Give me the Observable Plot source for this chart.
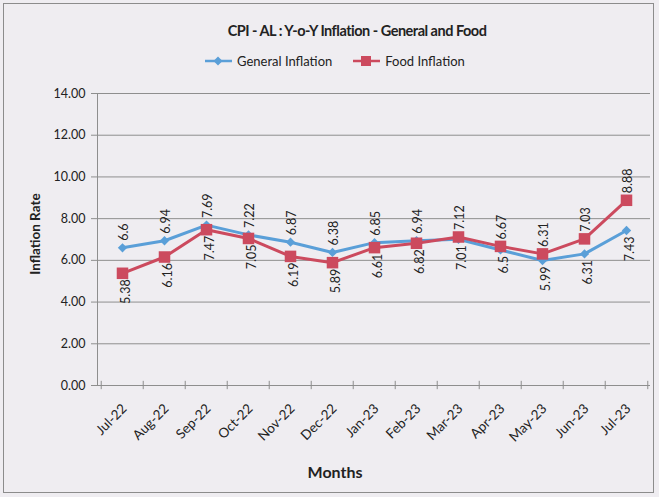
<!DOCTYPE html>
<html><head><meta charset="utf-8">
<script src="https://cdn.jsdelivr.net/npm/d3@7"></script>
<script src="https://cdn.jsdelivr.net/npm/@observablehq/plot@0.6"></script>
<style>
html,body{margin:0;padding:0;background:#efedf1;}
#wrap{position:relative;width:659px;height:497px;font-family:Lato,"Open Sans",sans-serif;color:#222;overflow:hidden;background:#efedf1;}
#border{position:absolute;left:3px;top:3px;width:651px;height:490px;border:1px solid #8c8c8c;box-sizing:border-box;pointer-events:none;}
#title{position:absolute;left:0;width:714px;top:22px;text-align:center;font-weight:bold;font-size:14.5px;letter-spacing:-0.5px;}
#legend{position:absolute;top:53px;left:205px;font-size:13px;display:flex;align-items:center;}
#legend .item{display:flex;align-items:center;margin-right:21px;}
#legend svg{margin-right:5px;}
#ytitle{position:absolute;left:35px;top:234px;transform:translate(-50%,-50%) rotate(-90deg);font-weight:bold;font-size:13.5px;white-space:nowrap;}
#xtitle{position:absolute;left:335px;top:471px;transform:translate(-50%,-50%);font-weight:bold;font-size:16px;}
#chart{position:absolute;left:0;top:0;}
</style></head>
<body>
<div id="wrap">
  <div id="chart"></div>
  <div id="title"></div>
  <div id="legend"></div>
  <div id="ytitle"></div>
  <div id="xtitle"></div>
  <div id="border"></div>
</div>
<script>
const titleText = "CPI - AL : Y-o-Y Inflation - General and Food";
const yAxisTitle = "Inflation Rate";
const xAxisTitle = "Months";
const months = ["Jul-22","Aug-22","Sep-22","Oct-22","Nov-22","Dec-22","Jan-23","Feb-23","Mar-23","Apr-23","May-23","Jun-23","Jul-23"];
const seriesNames = ["General Inflation","Food Inflation"];
const general = [6.6, 6.94, 7.69, 7.22, 6.87, 6.38, 6.85, 6.94, 7.01, 6.5, 5.99, 6.31, 7.43];
const food = [5.38, 6.16, 7.47, 7.05, 6.19, 5.89, 6.61, 6.82, 7.12, 6.67, 6.31, 7.03, 8.88];
const generalLabels = ["6.6","6.94","7.69","7.22","6.87","6.38","6.85","6.94","7.01","6.5","5.99","6.31","7.43"];
const foodLabels = ["5.38","6.16","7.47","7.05","6.19","5.89","6.61","6.82","7.12","6.67","6.31","7.03","8.88"];
const yTicks = [0,2,4,6,8,10,12,14];
const colors = ["#5a9fd8","#cc4a5e"];

document.getElementById("title").textContent = titleText;
document.getElementById("ytitle").textContent = yAxisTitle;
document.getElementById("xtitle").textContent = xAxisTitle;

// legend
const leg = document.getElementById("legend");
seriesNames.forEach((name, i) => {
  const item = document.createElement("div");
  item.className = "item";
  const marker = i === 0
    ? `<polygon points="13,1.5 17.5,6 13,10.5 8.5,6" fill="${colors[0]}"/>`
    : `<rect x="8" y="1" width="10" height="10" fill="${colors[1]}"/>`;
  item.innerHTML = `<svg width="27" height="12"><line x1="0" x2="27" y1="6" y2="6" stroke="${colors[i]}" stroke-width="2.5"/>${marker}</svg><span>${name}</span>`;
  leg.appendChild(item);
});

const rows = [];
months.forEach((m, i) => {
  rows.push({month: m, series: seriesNames[0], value: general[i], label: generalLabels[i], above: general[i] >= food[i]});
  rows.push({month: m, series: seriesNames[1], value: food[i], label: foodLabels[i], above: food[i] > general[i]});
});

const W = 659, H = 497, mL = 97, mR = 9, mT = 93, mB = 112;
const bw = (W - mL - mR) / months.length;

const plot = Plot.plot({
  width: W, height: H,
  marginLeft: mL, marginRight: mR, marginTop: mT, marginBottom: mB,
  style: {background: "transparent", fontFamily: "Lato, sans-serif", color: "#222"},
  x: {type: "band", domain: months, padding: 0, axis: null},
  y: {domain: [0, 14], axis: null},
  color: {domain: seriesNames, range: colors},
  marks: [
    Plot.gridY(yTicks.filter(d => d > 0), {stroke: "#8e8e8e", strokeOpacity: 1, strokeWidth: 1}),
    Plot.axisY(yTicks, {tickFormat: d => d.toFixed(2), tickSize: 6, tickPadding: 6, fontSize: 12.5, stroke: "#8e8e8e", label: null}),
    Plot.frame({anchor: "left", stroke: "#8e8e8e"}),
    Plot.ruleY([0], {stroke: "#8e8e8e"}),
    Plot.ruleX(months, {x: d => d, y1: -0.2, y2: 0.2, dx: -bw / 2, stroke: "#8e8e8e"}),
    Plot.ruleX([months[months.length - 1]], {x: d => d, y1: -0.2, y2: 0.2, dx: bw / 2, stroke: "#8e8e8e"}),
    Plot.text(months, {x: d => d, y: 0, text: d => d, rotate: -45, textAnchor: "end", dy: 21, dx: 2, fontSize: 13.5, fill: "#222"}),
    Plot.line(rows, {x: "month", y: "value", stroke: "series", strokeWidth: 3}),
    Plot.dot(rows.filter(d => d.series === seriesNames[0]), {x: "month", y: "value", fill: "series", symbol: "diamond2", r: 4.2}),
    Plot.dot(rows.filter(d => d.series === seriesNames[1]), {x: "month", y: "value", fill: "series", symbol: "square", r: 6.5}),
    Plot.text(rows.filter(d => d.above), {x: "month", y: "value", text: "label", rotate: -90, textAnchor: "start", dy: -7, dx: 1, fontSize: 12.5, fill: "#222"}),
    Plot.text(rows.filter(d => !d.above), {x: "month", y: "value", text: "label", rotate: -90, textAnchor: "end", dy: 6, dx: 3, fontSize: 12.5, fill: "#222"})
  ]
});
document.getElementById("chart").appendChild(plot);
</script>
</body></html>
